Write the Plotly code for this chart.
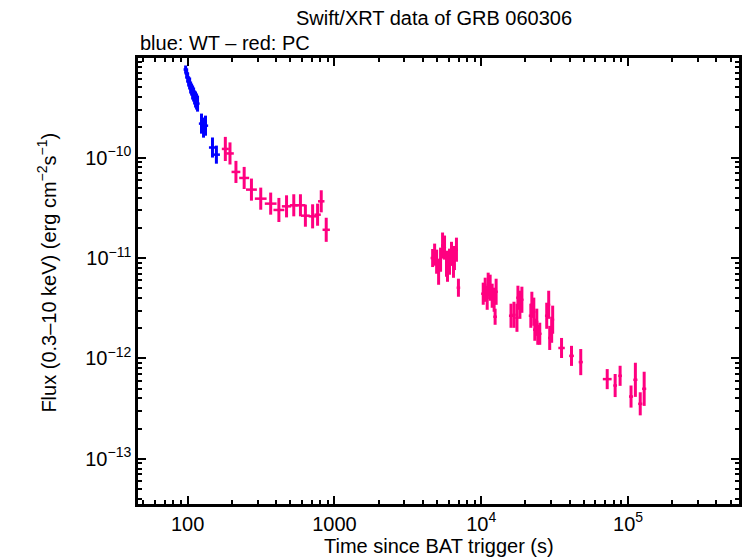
import numpy as np
import plotly.graph_objects as go

# ---- WT mode (blue) ----
wt_time = [96.9, 98.5, 100.0, 101.6, 103.2, 104.8, 106.4, 108.1, 109.8, 111.5,
           113.2, 115.0, 116.8, 124.3, 128.3, 132.3, 147.6, 157.0]
wt_flux = [7.54e-10, 6.88e-10, 6.28e-10, 5.72e-10, 5.47e-10, 4.99e-10, 4.76e-10,
           4.45e-10, 4.25e-10, 3.97e-10, 3.79e-10, 3.62e-10, 3.45e-10, 2.18e-10,
           1.99e-10, 2.08e-10, 1.26e-10, 1.07e-10]
wt_ferr_dex = [0.04, 0.05, 0.05, 0.05, 0.06, 0.06, 0.06, 0.07, 0.07, 0.07,
               0.08, 0.08, 0.08, 0.10, 0.10, 0.10, 0.10, 0.09]
wt_terr_dex = [0.014, 0.014, 0.014, 0.014, 0.014, 0.014, 0.014, 0.014, 0.014, 0.014,
               0.014, 0.014, 0.014, 0.018, 0.018, 0.018, 0.024, 0.024]

# ---- PC mode (red/pink) ----
pc_time = [180.6, 194.3, 213.3, 242.7, 272.0, 314.7, 367.8, 418.4, 471.7, 528.4,
           586.6, 634.0, 710.0, 767.6, 813.0, 879.0,
           4666, 4814, 4966, 5123, 5284, 5452, 5623, 5801, 5892, 6078,
           6271, 6469, 6570, 6778, 6992,
           10315, 10640, 10980, 11150, 11500, 11870, 12240, 12630, 12430,
           15950, 16710, 17510, 17780, 18340, 18920,
           21770, 22120, 22810, 23170, 23900, 24270, 25040,
           27930, 28810, 29270, 30180, 30660,
           35240, 41210, 47620, 72140, 81700, 88300, 104800, 112200, 121100, 128800]
pc_flux = [1.22e-10, 1.10e-10, 7.2e-11, 6.27e-11, 4.8e-11, 3.9e-11, 3.48e-11, 3.01e-11,
           3.27e-11, 3.35e-11, 3.35e-11, 2.64e-11, 2.60e-11, 2.70e-11, 3.67e-11, 1.91e-11,
           1.0e-11, 1.08e-11, 9.19e-12, 7.30e-12, 9.62e-12, 1.33e-11, 1.27e-11, 8.77e-12,
           7.64e-12, 9.19e-12, 1.10e-11, 8.57e-12, 1.0e-11, 1.21e-11, 5.06e-12,
           4.41e-12, 4.83e-12, 4.02e-12, 5.42e-12, 5.06e-12, 4.21e-12, 3.84e-12, 4.61e-12, 2.60e-12,
           2.66e-12, 2.72e-12, 2.54e-12, 4.02e-12, 3.42e-12, 3.84e-12,
           2.66e-12, 3.42e-12, 2.92e-12, 1.93e-12, 2.32e-12, 1.72e-12, 1.76e-12,
           2.66e-12, 3.42e-12, 1.60e-12, 1.93e-12, 2.43e-12,
           1.27e-12, 1.06e-12, 9.19e-13, 6.22e-13, 5.37e-13, 6.71e-13, 4.17e-13, 6.12e-13,
           3.53e-13, 4.98e-13]
pc_ferr_dex = [0.12, 0.11, 0.11, 0.11, 0.11, 0.11, 0.11, 0.12, 0.11, 0.11,
               0.11, 0.11, 0.12, 0.11, 0.11, 0.12,
               0.09, 0.11, 0.12, 0.13, 0.12, 0.13, 0.12, 0.13, 0.12, 0.13,
               0.12, 0.13, 0.12, 0.12, 0.09,
               0.11, 0.12, 0.12, 0.12, 0.13, 0.12, 0.12, 0.13, 0.08,
               0.12, 0.13, 0.14, 0.12, 0.14, 0.13,
               0.12, 0.13, 0.14, 0.11, 0.13, 0.10, 0.11,
               0.13, 0.14, 0.12, 0.13, 0.14,
               0.10, 0.10, 0.13, 0.10, 0.115, 0.10, 0.11, 0.17, 0.115, 0.17]
pc_terr_dex = [0.024, 0.026, 0.030, 0.034, 0.037, 0.040, 0.040, 0.037, 0.032, 0.027,
               0.034, 0.030, 0.027, 0.022, 0.022, 0.025,
               0.014, 0.010, 0.010, 0.010, 0.010, 0.010, 0.010, 0.010, 0.010, 0.010,
               0.010, 0.010, 0.010, 0.010, 0.012,
               0.014, 0.010, 0.010, 0.010, 0.010, 0.010, 0.010, 0.010, 0.012,
               0.014, 0.010, 0.010, 0.010, 0.010, 0.010,
               0.014, 0.010, 0.010, 0.012, 0.010, 0.010, 0.012,
               0.012, 0.010, 0.010, 0.012, 0.010,
               0.022, 0.016, 0.014, 0.030, 0.012, 0.012, 0.014, 0.014, 0.014, 0.014]

x_tickvals = [100, 1000, 1e4, 1e5]
x_ticktext = ["100", "1000", "10<sup>4</sup>", "10<sup>5</sup>"]
y_tickvals = [1e-13, 1e-12, 1e-11, 1e-10]
y_ticktext = ["10<sup>\u221213</sup>", "10<sup>\u221212</sup>",
              "10<sup>\u221211</sup>", "10<sup>\u221210</sup>"]

BLUE = "rgb(0,0,255)"
PINK = "rgb(255,0,128)"


def errs(vals, dex):
    v = np.array(vals, dtype=float)
    d = np.array(dex, dtype=float)
    return v * (10 ** d - 1), v * (1 - 10 ** (-d))


fig = go.Figure()
for t, f, fd, td, col in [(wt_time, wt_flux, wt_ferr_dex, wt_terr_dex, BLUE),
                          (pc_time, pc_flux, pc_ferr_dex, pc_terr_dex, PINK)]:
    fu, fl = errs(f, fd)
    tu, tl = errs(t, td)
    fig.add_trace(go.Scatter(
        x=t, y=f, mode="markers",
        marker=dict(size=3, color=col),
        error_y=dict(type="data", symmetric=False, array=fu, arrayminus=fl,
                     color=col, thickness=3, width=0),
        error_x=dict(type="data", symmetric=False, array=tu, arrayminus=tl,
                     color=col, thickness=2.5, width=0),
        showlegend=False,
    ))

FONT = "Liberation Sans, Arial, sans-serif"
FS = 20
fig.update_layout(
    width=746, height=558,
    margin=dict(l=138, r=4, t=58, b=54),
    paper_bgcolor="white", plot_bgcolor="white",
    font=dict(family=FONT, size=FS, color="black"),
    xaxis=dict(type="log", range=[np.log10(45.9), np.log10(5.7e5)],
               tickvals=x_tickvals, ticktext=x_ticktext,
               ticks="inside", ticklen=8, tickwidth=2, tickcolor="black",
               minor=dict(ticks="inside", ticklen=4, tickwidth=1.5, tickcolor="black",
                          dtick="D1", showgrid=False),
               showline=True, linewidth=2.5, linecolor="black", mirror="allticks",
               showgrid=False, zeroline=False),
    yaxis=dict(type="log", range=[-13.45, -9.008],
               tickvals=y_tickvals, ticktext=y_ticktext,
               ticks="inside", ticklen=8, tickwidth=2, tickcolor="black",
               minor=dict(ticks="inside", ticklen=4, tickwidth=1.5, tickcolor="black",
                          dtick="D1", showgrid=False),
               showline=True, linewidth=2.5, linecolor="black", mirror="allticks",
               showgrid=False, zeroline=False),
    annotations=[
        dict(text="Swift/XRT data of GRB 060306", xref="paper", yref="paper",
             x=0.493, y=1 + (58.5 - 19) / 445.5, xanchor="center", yanchor="middle",
             showarrow=False, font=dict(size=FS)),
        dict(text="blue: WT \u2013 red: PC", xref="paper", yref="paper",
             x=0, y=1 + (58.5 - 44) / 445.5, xanchor="left", yanchor="middle",
             showarrow=False, font=dict(size=FS)),
        dict(text="Time since BAT trigger (s)", xref="paper", yref="paper",
             x=0.5, y=-(546 - 504) / 445.5, xanchor="center", yanchor="middle",
             showarrow=False, font=dict(size=FS)),
        dict(text="Flux (0.3\u201310 keV) (erg cm<sup>\u22122</sup>s<sup>\u22121</sup>)",
             xref="paper", yref="paper", textangle=-90,
             x=-(138.5 - 47) / 603.5, y=(504 - 273) / 445.5,
             xanchor="center", yanchor="middle",
             showarrow=False, font=dict(size=FS)),
    ],
)

fig.write_html("out.html")
